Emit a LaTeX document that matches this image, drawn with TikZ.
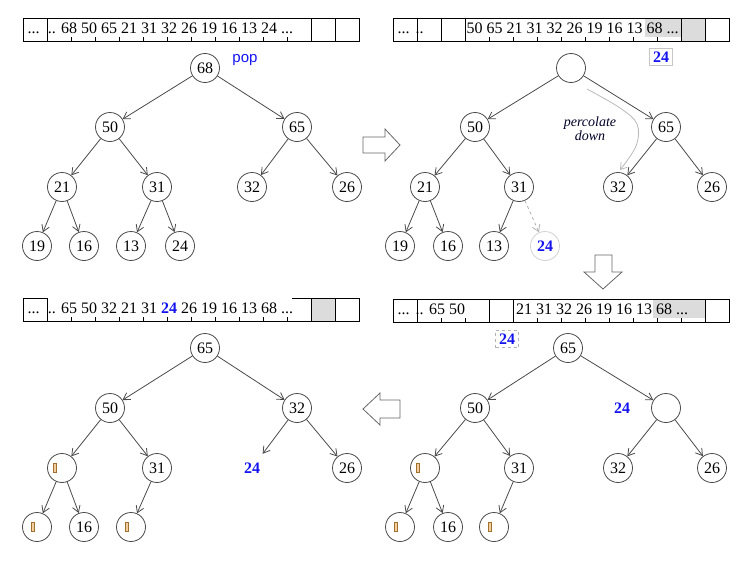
\documentclass[tikz,border=0pt]{standalone}
\usepackage{fontspec}
\setmainfont{Liberation Serif}
\newfontfamily\popfont{Liberation Sans}
\usetikzlibrary{arrows.meta}
\definecolor{edgec}{HTML}{4A4A4A}
\definecolor{bl}{HTML}{1414F0}
\definecolor{cellgray}{HTML}{DCDCDC}
\definecolor{glo}{HTML}{E8A040}
\begin{document}
\begin{tikzpicture}[x=1pt,y=-1pt,
  nd/.style={circle,draw=edgec,line width=0.8pt,minimum size=29pt,inner sep=0pt,font=\fontsize{16}{18}\selectfont},
  plain/.style={inner sep=0pt,minimum size=28pt,font=\fontsize{16}{18}\selectfont},
  ed/.style={draw=edgec,line width=0.8pt,-{Straight Barb[length=6.5pt,width=8pt]}},
  cellline/.style={draw=black,line width=1pt},
  arrtxt/.style={inner sep=0pt,anchor=base west,font=\fontsize{16}{19}\selectfont},
  blk/.style={draw=gray!80!black,line width=0.8pt,fill=white},
  bnum/.style={text=bl,font=\fontsize{16}{18}\selectfont\bfseries},
  glyph/.style={draw=glo!70!black,fill=glo!50,line width=0.4pt}
]
\useasboundingbox (0,0) rectangle (753,570);

% ---------- top-left array ----------
\begin{scope}[shift={(23,18)}]
  \foreach \i in {0,...,13} \draw[cellline] (\i*24.07,0) rectangle ++(24.07,23);
  \fill[white] (24.7,0.6) rectangle (287,18.5);
  \node[arrtxt] (tla) at (4.5,15.5) {...};
  \node[arrtxt] (tlb) at (24.7,15.5) {.. 68 50 65 21 31 32 26 19 16 13 24 ...};
\end{scope}

% ---------- top-right array ----------
\begin{scope}[shift={(393,18)}]
  \fill[cellgray] (12*24.07,0) rectangle ++(24.07,23);
  \foreach \i in {0,...,13} \draw[cellline] (\i*24.07,0) rectangle ++(24.07,23);
  \fill[white] (72.8,0.6) rectangle (252,18.5);
  \fill[cellgray] (252,0.6) rectangle (288.4,18.5);
  \node[arrtxt] (tra) at (4.5,15.5) {...};
  \node[arrtxt] (trb) at (22.5,15.5) {..};
  \node[arrtxt] (trc) at (73.5,15.5) {50 65 21 31 32 26 19 16 13 68 ...};
\end{scope}
\node[draw=gray!45,line width=0.8pt,inner sep=3.5pt,bnum] (lab1) at (661,57) {24};

% ---------- bottom-left array ----------
\begin{scope}[shift={(23,298)}]
  \fill[cellgray] (12*24.07,0) rectangle ++(24.07,23);
  \foreach \i in {0,...,13} \draw[cellline] (\i*24.07,0) rectangle ++(24.07,23);
  \fill[white] (24.7,-1) rectangle (269,18.5);
  \node[arrtxt] (bla) at (4.5,15.5) {...};
  \node[arrtxt] (blb) at (24.7,15.5) {.. 65 50 32 21 31 \textcolor{bl}{\bfseries 24} 26 19 16 13 68 ...};
\end{scope}

% ---------- bottom-right array ----------
\begin{scope}[shift={(393,299)}]
  \foreach \i in {0,...,13} \draw[cellline] (\i*24.07,0) rectangle ++(24.07,23);
  \fill[white] (24.7,0.6) rectangle (73.6,18.5);
  \fill[white] (121.0,0.6) rectangle (260,18.5);
  \fill[cellgray] (260,0.6) rectangle (312.3,18.5);
  \node[arrtxt] (bra) at (4.5,15.5) {...};
  \node[arrtxt] (brb) at (22.5,15.5) {.. 65 50};
  \node[arrtxt] (brc) at (123,15.5) {21 31 32 26 19 16 13 68 ...};
\end{scope}
\node[draw=gray!60,dashed,line width=0.6pt,inner sep=3.5pt,bnum] (lab2) at (507,339) {24};

% ---------- block arrows ----------
\draw[blk] (363,137)--(385,137)--(385,129)--(400,145)--(385,161)--(385,153)--(363,153)--cycle;
\draw[blk] (595,255)--(612,255)--(612,272)--(622,272)--(603,289)--(584,272)--(595,272)--cycle;
\draw[blk] (400,400)--(380,400)--(380,393)--(363,409)--(380,425)--(380,418)--(400,418)--cycle;

% ---------- tree 1 (top-left) ----------
\node[nd] (a1) at (205,68) {68};
\node[nd] (a2) at (110,127) {50};
\node[nd] (a3) at (297,127) {65};
\node[nd] (a4) at (62,187) {21};
\node[nd] (a5) at (157,187) {31};
\node[nd] (a6) at (252,187) {32};
\node[nd] (a7) at (347,187) {26};
\node[nd] (a8) at (37,246) {19};
\node[nd] (a9) at (84,246) {16};
\node[nd] (a10) at (131,246) {13};
\node[nd] (a11) at (180,246) {24};
\node[text=bl,font=\popfont\fontsize{15}{17}\selectfont] (pop) at (245,60) {pop};
\draw[ed] (a1) -- (a2); \draw[ed] (a1) -- (a3);
\draw[ed] (a2) -- (a4); \draw[ed] (a2) -- (a5);
\draw[ed] (a3) -- (a6); \draw[ed] (a3) -- (a7);
\draw[ed] (a4) -- (a8); \draw[ed] (a4) -- (a9);
\draw[ed] (a5) -- (a10); \draw[ed] (a5) -- (a11);

% ---------- tree 2 (top-right) ----------
\node[nd] (b1) at (571,68) {};
\node[nd] (b2) at (475,127) {50};
\node[nd] (b3) at (666,127) {65};
\node[nd] (b4) at (425,187) {21};
\node[nd] (b5) at (519,187) {31};
\node[nd] (b6) at (618,187) {32};
\node[nd] (b7) at (712,187) {26};
\node[nd] (b8) at (400,246) {19};
\node[nd] (b9) at (448,246) {16};
\node[nd] (b10) at (494,246) {13};
\node[nd,draw=gray!35,bnum] (b11) at (545,246) {24};
\draw[ed] (b1) -- (b2); \draw[ed] (b1) -- (b3);
\draw[ed] (b2) -- (b4); \draw[ed] (b2) -- (b5);
\draw[ed] (b3) -- (b6); \draw[ed] (b3) -- (b7);
\draw[ed] (b4) -- (b8); \draw[ed] (b4) -- (b9);
\draw[ed] (b5) -- (b10); \draw[ed,draw=gray!60,dashed] (b5) -- (b11);
\node[font=\fontsize{14}{16}\selectfont\itshape,align=center,text=black!85!blue] (perc) at (590,129) {percolate\\[-2pt]down};
\coordinate (p0) at (587,89);
\coordinate (p1) at (620,108);
\coordinate (p2) at (637,124);
\coordinate (p3) at (636,146);
\coordinate (p4) at (620,170);
\draw[gray!55,line width=0.8pt,-{Straight Barb[length=6pt,width=8pt]}] plot[smooth,tension=0.6] coordinates {(p0) (p1) (p2) (p3) (p4)};

% ---------- tree 3 (bottom-left) ----------
\node[nd] (c1) at (205,348) {65};
\node[nd] (c2) at (110,408) {50};
\node[nd] (c3) at (297,408) {32};
\node[nd] (c4) at (62,468) {};
\node[nd] (c5) at (157,468) {31};
\node[plain,bnum] (c6) at (252,468) {24};
\node[nd] (c7) at (347,468) {26};
\node[nd] (c8) at (37,527) {};
\node[nd] (c9) at (84,527) {16};
\node[nd] (c10) at (131,527) {};
\draw[ed] (c1) -- (c2); \draw[ed] (c1) -- (c3);
\draw[ed] (c2) -- (c4); \draw[ed] (c2) -- (c5);
\draw[ed] (c3) -- (c6); \draw[ed] (c3) -- (c7);
\draw[ed] (c4) -- (c8); \draw[ed] (c4) -- (c9);
\draw[ed] (c5) -- (c10);
\draw[glyph] ([xshift=-9pt,yshift=4.5pt]c4.center) rectangle ++(3,9);
\draw[glyph] ([xshift=-6pt,yshift=4.5pt]c8.center) rectangle ++(3,9);
\draw[glyph] ([xshift=-6pt,yshift=4.5pt]c10.center) rectangle ++(3,9);

% ---------- tree 4 (bottom-right) ----------
\node[nd] (d1) at (568,348) {65};
\node[nd] (d2) at (475,408) {50};
\node[nd] (d3) at (666,408) {};
\node[bnum] (lab3) at (622,408) {24};
\node[nd] (d4) at (425,468) {};
\node[nd] (d5) at (519,468) {31};
\node[nd] (d6) at (618,468) {32};
\node[nd] (d7) at (712,468) {26};
\node[nd] (d8) at (400,527) {};
\node[nd] (d9) at (448,527) {16};
\node[nd] (d10) at (494,527) {};
\draw[ed] (d1) -- (d2); \draw[ed] (d1) -- (d3);
\draw[ed] (d2) -- (d4); \draw[ed] (d2) -- (d5);
\draw[ed] (d3) -- (d6); \draw[ed] (d3) -- (d7);
\draw[ed] (d4) -- (d8); \draw[ed] (d4) -- (d9);
\draw[ed] (d5) -- (d10);
\draw[glyph] ([xshift=-9pt,yshift=4.5pt]d4.center) rectangle ++(3,9);
\draw[glyph] ([xshift=-6pt,yshift=4.5pt]d8.center) rectangle ++(3,9);
\draw[glyph] ([xshift=-6pt,yshift=4.5pt]d10.center) rectangle ++(3,9);
\end{tikzpicture}
\end{document}
